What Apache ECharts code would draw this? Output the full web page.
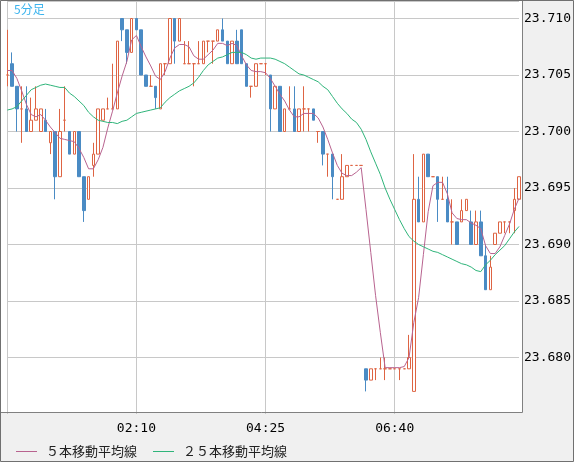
<!DOCTYPE html>
<html>
<head>
<meta charset="utf-8">
<script src="https://cdn.jsdelivr.net/npm/echarts@6/dist/echarts.min.js"></script>
<style>
html, body { margin: 0; padding: 0; background: #f0f0f0; }
#chart { width: 574px; height: 462px; }
</style>
</head>
<body>
<div id="chart"></div>
<script>
// 5分足 times
const times = [
  '23:55',
  '00:00', '00:05', '00:10', '00:15', '00:20', '00:25', '00:30', '00:35', '00:40', '00:45', '00:50', '00:55',
  '01:00', '01:05', '01:10', '01:15', '01:20', '01:25', '01:30', '01:35', '01:40', '01:45', '01:50', '01:55',
  '02:00', '02:05', '02:10', '02:15', '02:20', '02:25', '02:30', '02:35', '02:40', '02:45', '02:50', '02:55',
  '03:00', '03:05', '03:10', '03:15', '03:20', '03:25', '03:30', '03:35', '03:40', '03:45', '03:50', '03:55',
  '04:00', '04:05', '04:10', '04:15', '04:20', '04:25', '04:30', '04:35', '04:40', '04:45', '04:50', '04:55',
  '05:00', '05:05', '05:10', '05:15', '05:20', '05:25', '05:30', '05:35', '05:40', '05:45', '05:50', '05:55',
  '06:00', '06:05', '06:10', '06:15', '06:20', '06:25', '06:30', '06:35', '06:40', '06:45', '06:50', '06:55',
  '07:00', '07:05', '07:10', '07:15', '07:20', '07:25', '07:30', '07:35', '07:40', '07:45', '07:50', '07:55',
  '08:00', '08:05', '08:10', '08:15', '08:20', '08:25', '08:30', '08:35', '08:40', '08:45', '08:50'
]
const gridTimes = ['23:55', '02:10', '04:25', '06:40'] // 縦のグリッド線
const tickLabels = ['02:10', '04:25', '06:40'] // 時間の目盛り

// [始値, 終値, 安値, 高値]
const candles = [
  [23.705, 23.705, 23.704, 23.709], [23.706, 23.704, 23.704, 23.707], [23.704, 23.702, 23.700, 23.704],
  [23.702, 23.702, 23.699, 23.704], [23.702, 23.700, 23.700, 23.704], [23.700, 23.701, 23.700, 23.703],
  [23.701, 23.702, 23.701, 23.704], [23.700, 23.702, 23.700, 23.702], [23.701, 23.700, 23.700, 23.702],
  [23.699, 23.700, 23.698, 23.700], [23.700, 23.696, 23.694, 23.700], [23.696, 23.700, 23.696, 23.702],
  [23.701, 23.701, 23.700, 23.704], [23.700, 23.698, 23.698, 23.700], [23.698, 23.700, 23.698, 23.700],
  [23.700, 23.696, 23.696, 23.700], [23.696, 23.693, 23.692, 23.696], [23.694, 23.696, 23.694, 23.696],
  [23.697, 23.698, 23.696, 23.699], [23.698, 23.702, 23.698, 23.702], [23.701, 23.702, 23.701, 23.702],
  [23.702, 23.702, 23.702, 23.703], [23.702, 23.702, 23.702, 23.706], [23.702, 23.708, 23.702, 23.708],
  [23.710, 23.709, 23.708, 23.710], [23.709, 23.707, 23.706, 23.709], [23.707, 23.710, 23.707, 23.710],
  [23.710, 23.709, 23.709, 23.710], [23.709, 23.705, 23.705, 23.709], [23.705, 23.704, 23.704, 23.705],
  [23.704, 23.704, 23.704, 23.705], [23.704, 23.703, 23.702, 23.704], [23.702, 23.706, 23.702, 23.706],
  [23.706, 23.706, 23.705, 23.706], [23.706, 23.710, 23.706, 23.710], [23.710, 23.708, 23.706, 23.710],
  [23.708, 23.710, 23.708, 23.710], [23.706, 23.706, 23.706, 23.708], [23.706, 23.706, 23.706, 23.708],
  [23.706, 23.706, 23.704, 23.706], [23.706, 23.706, 23.706, 23.708], [23.706, 23.708, 23.706, 23.708],
  [23.708, 23.708, 23.707, 23.708], [23.708, 23.708, 23.706, 23.708], [23.708, 23.709, 23.708, 23.709],
  [23.709, 23.708, 23.708, 23.710], [23.708, 23.706, 23.706, 23.708], [23.706, 23.708, 23.706, 23.708],
  [23.708, 23.706, 23.706, 23.709], [23.709, 23.706, 23.706, 23.709], [23.706, 23.704, 23.704, 23.706],
  [23.704, 23.704, 23.703, 23.704], [23.704, 23.706, 23.704, 23.706], [23.706, 23.706, 23.706, 23.706],
  [23.706, 23.706, 23.705, 23.706], [23.705, 23.702, 23.700, 23.705], [23.702, 23.704, 23.702, 23.704],
  [23.704, 23.700, 23.700, 23.704], [23.700, 23.702, 23.700, 23.702], [23.702, 23.702, 23.702, 23.704],
  [23.702, 23.700, 23.700, 23.704], [23.700, 23.702, 23.700, 23.702], [23.702, 23.702, 23.700, 23.704],
  [23.702, 23.702, 23.700, 23.702], [23.702, 23.701, 23.701, 23.702], [23.700, 23.700, 23.699, 23.700],
  [23.700, 23.698, 23.697, 23.700], [23.698, 23.698, 23.696, 23.698], [23.698, 23.696, 23.694, 23.698],
  [23.694, 23.694, 23.694, 23.694], [23.694, 23.696, 23.694, 23.698], [23.696, 23.697, 23.696, 23.697],
  [23.697, 23.697, 23.697, 23.697], [23.697, 23.697, 23.697, 23.697], [23.697, 23.697, 23.697, 23.697],
  [23.679, 23.678, 23.677, 23.679], [23.678, 23.679, 23.678, 23.679], [23.679, 23.679, 23.678, 23.679],
  [23.679, 23.679, 23.679, 23.680], [23.679, 23.679, 23.678, 23.680], [23.679, 23.679, 23.679, 23.679],
  [23.679, 23.679, 23.679, 23.679], [23.679, 23.679, 23.678, 23.679], [23.679, 23.679, 23.679, 23.679],
  [23.679, 23.680, 23.679, 23.682], [23.677, 23.694, 23.677, 23.698], [23.694, 23.692, 23.692, 23.696],
  [23.692, 23.698, 23.692, 23.698], [23.698, 23.696, 23.696, 23.698], [23.696, 23.696, 23.696, 23.696],
  [23.696, 23.694, 23.692, 23.696], [23.694, 23.694, 23.694, 23.696], [23.694, 23.692, 23.692, 23.696],
  [23.692, 23.692, 23.690, 23.694], [23.692, 23.690, 23.690, 23.692], [23.692, 23.693, 23.692, 23.694],
  [23.693, 23.694, 23.693, 23.694], [23.692, 23.690, 23.690, 23.693], [23.690, 23.692, 23.690, 23.693],
  [23.692, 23.689, 23.689, 23.693], [23.689, 23.686, 23.686, 23.690], [23.686, 23.688, 23.686, 23.689],
  [23.690, 23.691, 23.690, 23.691], [23.691, 23.692, 23.691, 23.692], [23.692, 23.692, 23.691, 23.692],
  [23.692, 23.692, 23.691, 23.692], [23.693, 23.694, 23.691, 23.695], [23.694, 23.696, 23.694, 23.696]
]

// 5本移動平均線
const ma5 = [
  23.7054, 23.7054, 23.7047, 23.7036, 23.7024, 23.7015, 23.7013, 23.7015, 23.7010, 23.7004,
  23.6999, 23.6994, 23.6993, 23.6992, 23.6991, 23.6985, 23.6977, 23.6967, 23.6967, 23.6975,
  23.6986, 23.7003, 23.7018, 23.7034, 23.7049, 23.7062, 23.7081, 23.7085, 23.7075, 23.7066,
  23.7058, 23.7049, 23.7046, 23.7053, 23.7065, 23.7074, 23.7077, 23.7077, 23.7075, 23.7067,
  23.7064, 23.7064, 23.7068, 23.7072, 23.7078, 23.7078, 23.7076, 23.7078, 23.7076, 23.7067,
  23.7059, 23.7054, 23.7053, 23.7053, 23.7052, 23.7047, 23.7040, 23.7033, 23.7027, 23.7019,
  23.7013, 23.7013, 23.7016, 23.7016, 23.7016, 23.7012, 23.7004, 23.6993, 23.6981, 23.6970,
  23.6963, 23.6961, 23.6961, 23.6964, 23.6968, 23.6931, 23.6893, 23.6855, 23.6822, 23.6791,
  23.6791, 23.6791, 23.6791, 23.6792, 23.6800, 23.6831, 23.6853, 23.6891, 23.6929, 23.6952,
  23.6955, 23.6955, 23.6945, 23.6928, 23.6923, 23.6922, 23.6922, 23.6919, 23.6917, 23.6914,
  23.6899, 23.6892, 23.6892, 23.6898, 23.6908, 23.6918, 23.6931, 23.6941
]

// 25本移動平均線
const ma25 = [
  23.7019, 23.7020, 23.7022, 23.7027, 23.7032, 23.7037, 23.7039, 23.7041, 23.7042, 23.7041,
  23.7040, 23.7039, 23.7039, 23.7034, 23.7031, 23.7027, 23.7023, 23.7017, 23.7013, 23.7010,
  23.7009, 23.7008, 23.7008, 23.7007, 23.7009, 23.7010, 23.7013, 23.7016, 23.7017, 23.7018,
  23.7019, 23.7020, 23.7021, 23.7026, 23.7030, 23.7033, 23.7036, 23.7038, 23.7040, 23.7043,
  23.7048, 23.7054, 23.7059, 23.7062, 23.7065, 23.7066, 23.7068, 23.7070, 23.7070, 23.7070,
  23.7068, 23.7065, 23.7064, 23.7065, 23.7065, 23.7065, 23.7064, 23.7062, 23.7060, 23.7057,
  23.7054, 23.7051, 23.7050, 23.7048, 23.7046, 23.7044, 23.7040, 23.7037, 23.7031, 23.7025,
  23.7020, 23.7016, 23.7011, 23.7008, 23.7002, 23.6993, 23.6982, 23.6972, 23.6962, 23.6950,
  23.6940, 23.6931, 23.6922, 23.6914, 23.6907, 23.6903, 23.6900, 23.6898, 23.6896, 23.6894,
  23.6893, 23.6891, 23.6889, 23.6887, 23.6885, 23.6883, 23.6882, 23.6880, 23.6877, 23.6876,
  23.6882, 23.6886, 23.6891, 23.6895, 23.6899, 23.6905, 23.6911, 23.6916
]

const UP = '#de6443'
const DOWN = '#4a8bc4'
const FONT_MONO = '"DejaVu Sans Mono", monospace'
const FONT_JP = '"Noto Sans CJK JP", sans-serif'

const chart = echarts.init(document.getElementById('chart'))

// 同値の足は赤で描く
const candleData = candles.map(v => v[0] === v[1]
  ? { value: v, itemStyle: { color0: UP, borderColor0: UP } }
  : v)

const option = {
  animation: false,
  backgroundColor: '#f0f0f0',
  grid: { left: 7.3, right: 54.2, top: 1, bottom: 48 },
  legend: {
    left: 16,
    top: 445,
    padding: 0,
    icon: 'rect',
    itemWidth: 21,
    itemHeight: 1,
    itemGap: 16,
    textStyle: { fontFamily: FONT_JP, fontSize: 13, color: '#222', padding: [0, 0, 0, 4] },
    data: ['５本移動平均線', '２５本移動平均線']
  },
  xAxis: {
    type: 'category',
    data: times,
    boundaryGap: false,
    axisLine: { show: false },
    axisTick: { show: false },
    axisLabel: {
      interval: (i, v) => tickLabels.includes(v),
      margin: 8,
      color: '#000',
      fontFamily: FONT_MONO,
      fontSize: 13
    },
    splitLine: {
      show: true,
      interval: (i, v) => gridTimes.includes(v),
      lineStyle: { color: '#c8c8c8', width: 1 }
    }
  },
  yAxis: {
    type: 'value',
    position: 'right',
    scale: true,
    min: 23.675,
    max: 23.71155,
    interval: 0.005,
    axisLine: { show: false },
    axisTick: { show: false },
    axisLabel: {
      showMinLabel: false,
      showMaxLabel: false,
      margin: 5,
      color: '#000',
      fontFamily: FONT_MONO,
      fontSize: 13,
      formatter: v => v.toFixed(3)
    },
    splitLine: {
      lineStyle: {
        color: ['rgba(0,0,0,0)', '#c8c8c8', '#c8c8c8', '#c8c8c8', '#c8c8c8', '#c8c8c8', '#c8c8c8', '#c8c8c8', '#c8c8c8'],
        width: 1
      }
    }
  },
  graphic: [
    { type: 'rect', z: -10, shape: { x: 1, y: 1, width: 521.5, height: 411.5 }, style: { fill: '#fff' } },
    { type: 'line', z: 100, shape: { x1: 522.5, y1: 0, x2: 522.5, y2: 412.5 }, style: { stroke: '#808080', lineWidth: 1 } },
    { type: 'line', z: 100, shape: { x1: 0, y1: 412.5, x2: 522.5, y2: 412.5 }, style: { stroke: '#808080', lineWidth: 1 } },
    { type: 'rect', z: 100, shape: { x: 0.5, y: 0.5, width: 573, height: 461 }, style: { fill: 'none', stroke: '#707070', lineWidth: 1 } },
    { type: 'text', z: 100, left: 14, top: 3, style: { text: '5分足', fill: '#3db4ee', font: '12px ' + FONT_JP } }
  ],
  series: [
    {
      name: 'candle',
      type: 'candlestick',
      data: candleData,
      barWidth: 3,
      clip: false,
      itemStyle: {
        color: '#ffffff',
        color0: DOWN,
        borderColor: UP,
        borderColor0: DOWN,
        borderWidth: 1
      }
    },
    {
      name: '５本移動平均線',
      type: 'line',
      data: ma5,
      showSymbol: false,
      symbol: 'none',
      color: '#b8638f',
      lineStyle: { width: 1, color: '#b8638f' },
      z: 5
    },
    {
      name: '２５本移動平均線',
      type: 'line',
      data: ma25,
      showSymbol: false,
      symbol: 'none',
      color: '#2fb47a',
      lineStyle: { width: 1, color: '#2fb47a' },
      z: 5
    }
  ]
}

chart.setOption(option)
</script>
</body>
</html>
